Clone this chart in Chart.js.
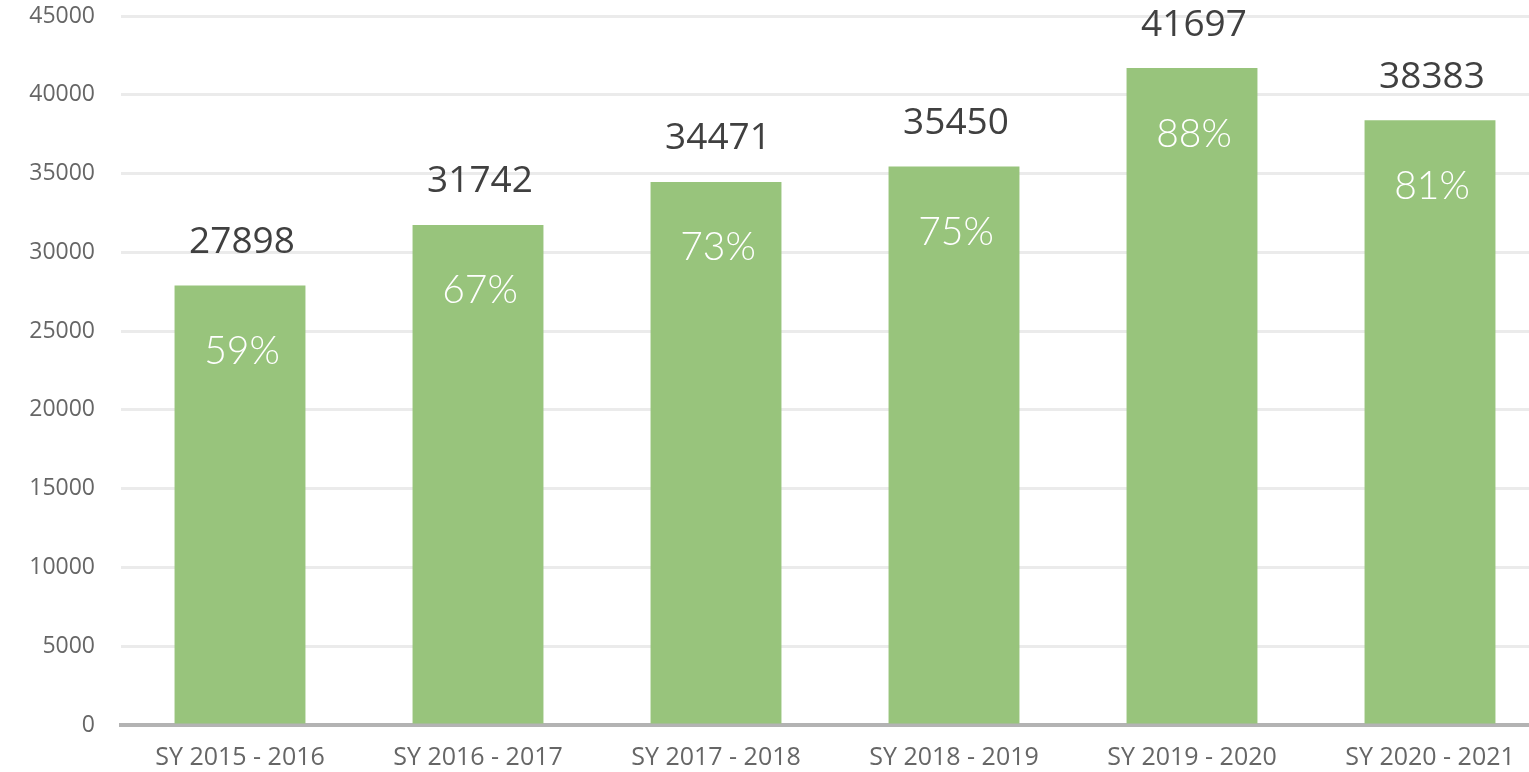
<!DOCTYPE html>
<html>
<head>
<meta charset="utf-8">
<script src="https://cdn.jsdelivr.net/npm/chart.js@4/dist/chart.umd.min.js"></script>
<style>
    html, body { margin: 0; padding: 0; background: #fff; overflow: hidden; }
    #wrap { width: 1560px; height: 772px; }
</style>
</head>
<body>
<div id="wrap"><canvas id="chart"></canvas></div>
<script>
const years = ['SY 2015 - 2016', 'SY 2016 - 2017', 'SY 2017 - 2018', 'SY 2018 - 2019', 'SY 2019 - 2020', 'SY 2020 - 2021'];
const totals = [27898, 31742, 34471, 35450, 41697, 38383];
const shares = ['59%', '67%', '73%', '75%', '88%', '81%'];
const yTicks = [0, 5000, 10000, 15000, 20000, 25000, 30000, 35000, 40000, 45000];

// numbers above the bars and percentages inside them
const barLabels = {
    id: 'barLabels',
    afterDatasetsDraw(chart) {
        const ctx = chart.ctx;
        const meta = chart.getDatasetMeta(0);
        ctx.save();
        ctx.textAlign = 'center';
        ctx.textBaseline = 'middle';
        meta.data.forEach((bar, i) => {
            ctx.fillStyle = '#404040';
            ctx.font = '37px "Open Sans", sans-serif';
            ctx.fillText(totals[i], bar.x + 2, bar.y - 43);
            ctx.fillStyle = '#ffffff';
            ctx.font = '300 39px Lato, "Open Sans", sans-serif';
            ctx.fillText(shares[i], bar.x + 2, bar.y + 66);
        });
        ctx.restore();
    }
};

new Chart(document.getElementById('chart'), {
    type: 'bar',
    data: {
        labels: years,
        datasets: [{
            data: totals,
            backgroundColor: '#98c47c',
            categoryPercentage: 1,
            barPercentage: 0.55
        }]
    },
    options: {
        responsive: true,
        maintainAspectRatio: false,
        animation: false,
        layout: { padding: { top: 16, right: 11, left: 0, bottom: 0 } },
        plugins: {
            legend: { display: false },
            tooltip: { enabled: false }
        },
        scales: {
            x: {
                grid: { display: false, drawTicks: false },
                border: { display: true, color: '#b3b3b3', width: 4 },
                ticks: {
                    color: '#666666',
                    font: { family: '"Open Sans", sans-serif', size: 25 },
                    padding: 18,
                    maxRotation: 0
                },
                afterFit: s => { s.height = 47; s.paddingLeft = 0; s.paddingRight = 0; }
            },
            y: {
                min: 0,
                max: 45000,
                afterBuildTicks: s => { s.ticks = yTicks.map(v => ({ value: v })); },
                grid: { color: '#ebebeb', lineWidth: 3, drawTicks: false },
                border: { display: false },
                ticks: {
                    color: '#666666',
                    font: { family: '"Open Sans", sans-serif', size: 23 },
                    padding: 26,
                    callback: v => String(v)
                },
                afterFit: s => { s.width = 121; s.paddingTop = 0; s.paddingBottom = 0; }
            }
        }
    },
    plugins: [barLabels]
});
</script>
</body>
</html>
